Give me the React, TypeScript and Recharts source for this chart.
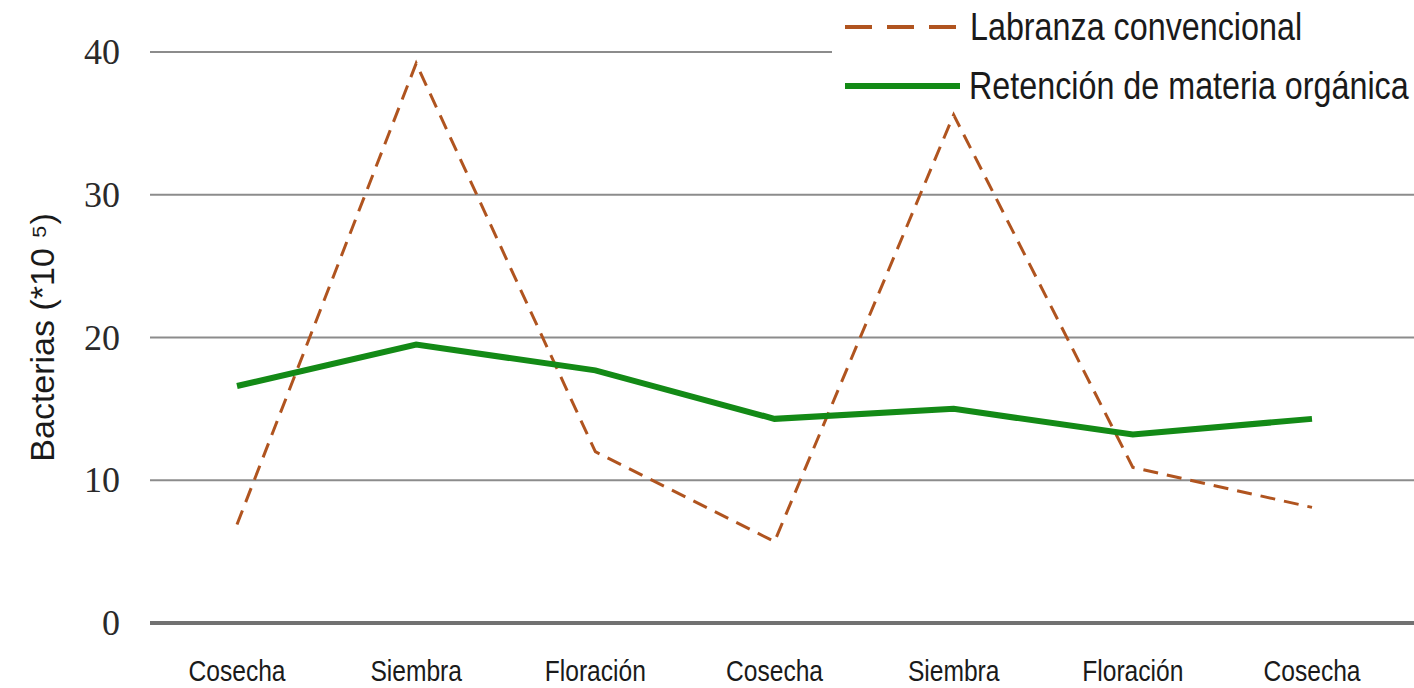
import { LineChart, Line, XAxis, YAxis, CartesianGrid } from 'recharts';

// Etapas del cultivo (eje X)
const etapas = ['Cosecha', 'Siembra', 'Floración', 'Cosecha', 'Siembra', 'Floración', 'Cosecha'];
// Bacterias (*10^5)
const labranza = [6.9, 39.2, 12.0, 5.7, 35.6, 10.9, 8.1];
const retencion = [16.6, 19.5, 17.7, 14.3, 15.0, 13.2, 14.3];
const yTicks = [0, 10, 20, 30, 40];

const BROWN = '#b0541f';
const GREEN = '#138a16';
const SANS = "'Liberation Sans', Arial, sans-serif";

const data = etapas.map((etapa, i) => ({
  idx: i,
  etapa,
  labranza: labranza[i],
  retencion: retencion[i],
}));

// texto "estrecho": Arial Narrow no está, así que se comprime en horizontal
const Narrow = ({ x, y, size, children, anchor = 'start', dy = '0', sx = 0.82 }: any) => (
  <text
    transform={`translate(${x},${y}) scale(${sx},1)`}
    dy={dy}
    textAnchor={anchor}
    fontFamily={SANS}
    fontSize={size}
    fill="#1a1a1a"
  >
    {children}
  </text>
);

const YTick = ({ x, y, payload }: any) => (
  <text x={x} y={y} dy="0.34em" textAnchor="end" fill="#2a2a2a"
    fontFamily="'Liberation Serif', 'DejaVu Serif', serif" fontSize={36}>
    {payload.value}
  </text>
);

const XTick = ({ x, y, payload }: any) => (
  <Narrow x={x} y={y} size={30} anchor="middle" dy="0.71em">
    {etapas[payload.value]}
  </Narrow>
);

const YLabel = ({ viewBox }: any) => {
  const cy = viewBox.y + viewBox.height / 2;
  return (
    <text transform={`translate(54,${cy}) rotate(-90)`} textAnchor="middle"
      fontFamily={SANS} fontSize={34} fill="#1a1a1a">
      Bacterias (*10 ⁵)
    </text>
  );
};

const LegendBox = () => (
  <svg width={582} height={110} style={{ position: 'absolute', left: 832, top: 0, background: '#fff' }}>
    <line x1={13} x2={128} y1={27} y2={27} stroke={BROWN} strokeWidth={4} strokeDasharray="27 15" />
    <line x1={13} x2={128} y1={86} y2={86} stroke={GREEN} strokeWidth={6} />
    <Narrow x={138} y={40} size={38} sx={0.85}>Labranza convencional</Narrow>
    <Narrow x={137} y={99} size={38} sx={0.85}>Retención de materia orgánica</Narrow>
  </svg>
);

export default function App() {
  return (
    <div style={{ position: 'absolute', left: 0, top: 0, width: 1414, height: 688, background: '#fff' }}>
      <LineChart width={1414} height={688} data={data} margin={{ top: 52, right: 0, bottom: 0, left: 0 }}>
        <CartesianGrid vertical={false} stroke="#8c8c8c" strokeWidth={2} />
        <XAxis
          dataKey="idx"
          type="category"
          height={65}
          padding={{ left: 87, right: 102 }}
          axisLine={{ stroke: '#717171', strokeWidth: 4 }}
          tickLine={false}
          tickSize={0}
          tickMargin={37}
          tick={<XTick />}
          interval={0}
        />
        <YAxis
          width={150}
          domain={[0, 40]}
          ticks={yTicks}
          axisLine={false}
          tickLine={false}
          tickSize={0}
          tickMargin={30}
          tick={<YTick />}
          label={<YLabel />}
        />
        <Line
          dataKey="labranza"
          name="Labranza convencional"
          stroke={BROWN}
          strokeWidth={3}
          strokeDasharray="15 9"
          dot={false}
          isAnimationActive={false}
        />
        <Line
          dataKey="retencion"
          name="Retención de materia orgánica"
          stroke={GREEN}
          strokeWidth={6}
          dot={false}
          isAnimationActive={false}
        />
      </LineChart>
      <LegendBox />
    </div>
  );
}
